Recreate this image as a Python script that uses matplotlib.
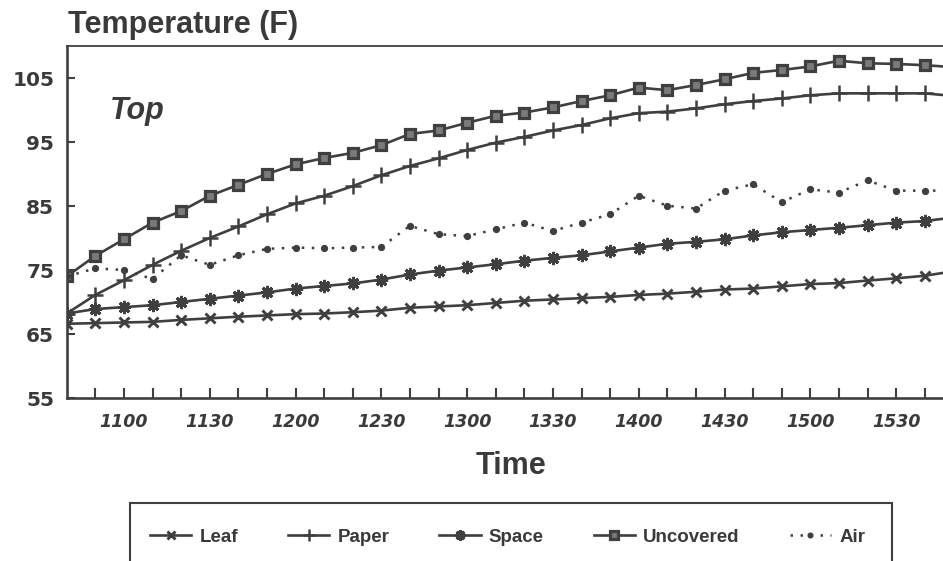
import matplotlib
matplotlib.use("Agg")
import matplotlib.pyplot as plt
from matplotlib.patches import Rectangle
from matplotlib.lines import Line2D

# ---- data ----
times = [1040, 1050, 1100, 1110, 1120, 1130, 1140, 1150, 1200, 1210, 1220,
         1230, 1240, 1250, 1300, 1310, 1320, 1330, 1340, 1350, 1400, 1410,
         1420, 1430, 1440, 1450, 1500, 1510, 1520, 1530, 1540, 1550]
leaf = [66.6, 66.7, 66.8, 66.9, 67.2, 67.45, 67.7, 67.9, 68.1, 68.2, 68.4,
        68.65, 69.1, 69.3, 69.5, 69.85, 70.2, 70.4, 70.6, 70.8, 71.1, 71.3,
        71.6, 71.95, 72.1, 72.45, 72.8, 72.95, 73.35, 73.7, 74.1, 74.8]
paper = [68.2, 71.1, 73.4, 75.8, 78.0, 80.0, 81.8, 83.7, 85.4, 86.6, 88.1,
         89.8, 91.25, 92.45, 93.75, 94.9, 95.8, 96.8, 97.65, 98.7, 99.5, 99.75,
         100.25, 100.9, 101.4, 101.8, 102.3, 102.6, 102.6, 102.6, 102.6, 102.2]
space = [68.2, 68.9, 69.2, 69.5, 70.0, 70.5, 71.0, 71.5, 72.1, 72.5, 72.9,
         73.5, 74.3, 74.9, 75.4, 75.9, 76.45, 76.9, 77.3, 77.9, 78.5, 79.1,
         79.4, 79.8, 80.4, 80.9, 81.25, 81.6, 82.0, 82.4, 82.65, 83.2]
uncovered = [74.0, 77.2, 79.8, 82.4, 84.2, 86.6, 88.3, 90.0, 91.5, 92.5, 93.3,
             94.5, 96.25, 96.8, 98.0, 99.1, 99.6, 100.4, 101.4, 102.3, 103.5, 103.1,
             103.9, 104.8, 105.8, 106.25, 106.8, 107.7, 107.3, 107.2, 107.0, 106.7]
air = [74.0, 75.25, 75.0, 73.6, 77.3, 75.8, 77.3, 78.3, 78.5, 78.4, 78.5,
       78.6, 81.9, 80.6, 80.3, 81.35, 82.4, 81.1, 82.4, 83.7, 86.6, 85.05,
       84.6, 87.4, 88.4, 85.6, 87.6, 87.1, 89.0, 87.4, 87.4, 87.4]
series_names = ["Leaf", "Paper", "Space", "Uncovered", "Air"]
minor_tick_times = [1050, 1100, 1110, 1120, 1130, 1140, 1150, 1200, 1210, 1220,
                    1230, 1240, 1250, 1300, 1310, 1320, 1330, 1340, 1350, 1400,
                    1410, 1420, 1430, 1440, 1450, 1500, 1510, 1520, 1530, 1540]
label_times = [1100, 1130, 1200, 1230, 1300, 1330, 1400, 1430, 1500, 1530]
yticks = [55, 65, 75, 85, 95, 105]

def to_min(t):
    return (t // 100) * 60 + t % 100 - (times[0] // 100) * 60 - times[0] % 100

x = [to_min(t) for t in times]

# ---- figure ----
W, H = 943, 561
fig = plt.figure(figsize=(W / 100, H / 100), dpi=100)
fig.patch.set_facecolor("white")
C = "#3f3f3f"
TXT = "#3a3a3a"

left_px, right_px, top_px, bot_px = 66.7, 943, 46, 398
ax = fig.add_axes([left_px / W, 1 - bot_px / H, (right_px - left_px) / W, (bot_px - top_px) / H])
ax.set_xlim(0, (right_px - left_px) / 2.86)
ax.set_ylim(55, 110)

lw = 1.9
styles = [
    dict(color=C, lw=lw, marker="x", ms=7.5, mew=2.1),
    dict(color=C, lw=lw, marker="+", ms=11, mew=1.8),
    dict(color=C, lw=lw, marker=(8, 2, 0), ms=9.5, mew=2.1),
    dict(color=C, lw=lw, marker="s", ms=7.5, mew=2.3, mfc="#7a7a7a", mec=C),
    dict(color=C, lw=1.8, ls=(0, (1, 3)), marker="o", ms=4.2, mfc=C, mec=C),
]
for vals, st in zip([leaf, paper, space, uncovered, air], styles):
    ax.plot(x, vals, **st)

for s in ["left", "bottom"]:
    ax.spines[s].set_linewidth(1.9)
    ax.spines[s].set_color(C)
ax.spines["top"].set_linewidth(1.3)
ax.spines["top"].set_color(C)
ax.spines["right"].set_visible(False)

ax.set_yticks(yticks)
ax.set_yticklabels([str(v) for v in yticks], fontfamily="DejaVu Sans",
                   fontweight="bold", fontsize=14.5, color=TXT)
ax.tick_params(axis="y", direction="in", length=6, width=1.5, color=C, pad=9)

ax.set_xticks([to_min(t) for t in minor_tick_times], minor=True)
ax.set_xticks([to_min(t) for t in label_times])
ax.set_xticklabels([str(t) for t in label_times], fontfamily="DejaVu Sans",
                   fontweight="bold", fontstyle="italic", fontsize=12.5, color=TXT)
ax.tick_params(axis="x", which="both", direction="in", length=7.5, width=1.5,
               color=C, pad=11)

# ---- texts ----
fig.text(68 / W, 1 - 33 / H, "Temperature (F)", fontfamily="Liberation Sans",
         fontweight="bold", fontsize=22, color=TXT, ha="left", va="baseline")
fig.text(110 / W, 1 - 119 / H, "Top", fontfamily="Liberation Sans",
         fontweight="bold", fontstyle="italic", fontsize=22, color=TXT,
         ha="left", va="baseline")
fig.text(511 / W, 1 - 474 / H, "Time", fontfamily="Liberation Sans",
         fontweight="bold", fontsize=22, color=TXT, ha="center", va="baseline")

# ---- legend ----
handles = []
for st in styles:
    hs = dict(st)
    hs["ms"] = st["ms"] * 0.8
    handles.append(Line2D([], [], **hs))
leg = fig.legend(handles, series_names, loc="center left",
                 bbox_to_anchor=(150 / W, 1 - 537 / H), ncol=5, frameon=False,
                 borderpad=0, borderaxespad=0, handlelength=2.2,
                 handletextpad=0.45, columnspacing=2.65,
                 prop={"family": "Liberation Sans", "weight": "bold", "size": 13.5})
for t in leg.get_texts():
    t.set_color(TXT)

fig.patches.append(Rectangle((130 / W, 1 - 575 / H), (892 - 130) / W, (575 - 503) / H,
                             transform=fig.transFigure, fill=False, ec=C, lw=1.5))

fig.savefig("out.png", dpi=100, facecolor="white")
